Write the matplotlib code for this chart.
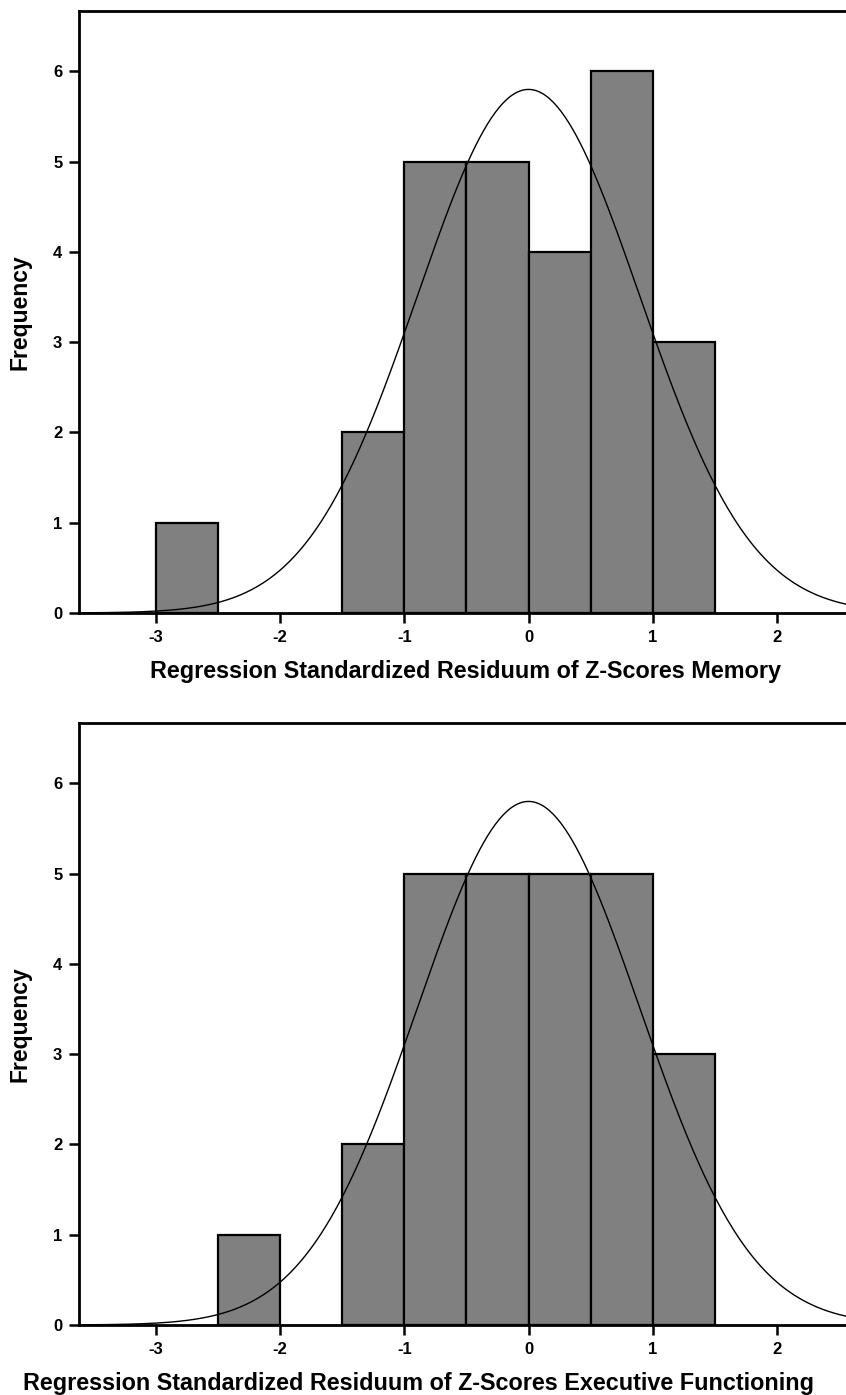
import matplotlib
matplotlib.use("Agg")
import matplotlib.pyplot as plt
import numpy as np

plt.rcParams['font.family'] = ['Liberation Sans', 'DejaVu Sans']
plt.rcParams['axes.unicode_minus'] = False

# histogram bins (left edges, width 0.5) and counts
bin_width = 0.5
memory_left = [-3.0, -1.5, -1.0, -0.5, 0.0, 0.5, 1.0]
memory_counts = [1, 2, 5, 5, 4, 6, 3]
exec_left = [-2.5, -1.5, -1.0, -0.5, 0.0, 0.5, 1.0]
exec_counts = [1, 2, 5, 5, 5, 5, 3]

# fitted normal curve parameters
mean = 0.0
std = 0.894
n_obs = 26

x_ticks = [-3, -2, -1, 0, 1, 2]
y_ticks = [0, 1, 2, 3, 4, 5, 6]
labels = ["Regression Standardized Residuum of Z-Scores Memory",
          "Regression Standardized Residuum of Z-Scores Executive Functioning"]

fig = plt.figure(figsize=(8.46, 13.95), dpi=100)
ax_top = fig.add_axes([0.0934, 0.5606, 0.913, 0.4315])
ax_bot = fig.add_axes([0.0934, 0.0502, 0.913, 0.4315])


def draw_hist(ax, lefts, counts, xlabel, label_x=0.5):
    ax.bar(lefts, counts, width=bin_width, align='edge', color='#808080',
           edgecolor='black', linewidth=1.6, zorder=2)
    xs = np.linspace(-3.62, 2.6, 400)
    ys = n_obs * bin_width / (np.sqrt(2 * np.pi) * std) * \
        np.exp(-0.5 * ((xs - mean) / std) ** 2)
    ax.plot(xs, ys, color='black', linewidth=1.0, zorder=3)
    ax.set_xlim(-3.62, 2.6)
    ax.set_ylim(0, 6.67)
    ax.set_xticks(x_ticks)
    ax.set_yticks(y_ticks)
    ax.spines['right'].set_visible(False)
    for s in ['left', 'top', 'bottom']:
        ax.spines[s].set_linewidth(2.0)
    ax.tick_params(width=1.8, length=7, labelsize=12, pad=5)
    for t in ax.get_xticklabels() + ax.get_yticklabels():
        t.set_fontweight('semibold')
    ax.set_xlabel(xlabel, fontsize=16.8, fontweight='bold')
    ax.xaxis.set_label_coords(label_x, -0.078)
    ax.set_ylabel('Frequency', fontsize=16.5, fontweight='bold')
    ax.yaxis.set_label_coords(-0.061, 0.5)


draw_hist(ax_top, memory_left, memory_counts, labels[0])
draw_hist(ax_bot, exec_left, exec_counts, labels[1], label_x=0.44)

fig.savefig('out.png', dpi=100)
